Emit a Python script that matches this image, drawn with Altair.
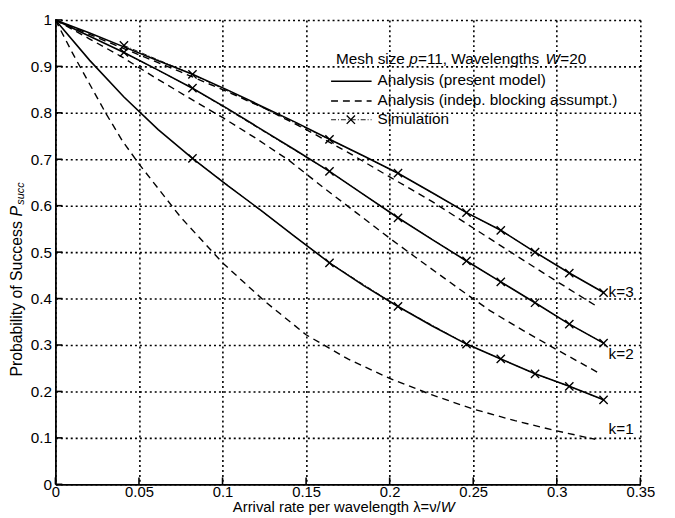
import altair as alt
import pandas as pd

# ---------------- data ----------------
# Analysis (present model)  solid
lam_pm = [0, 0.0205, 0.041, 0.0615, 0.082, 0.1025, 0.123, 0.1435, 0.164, 0.1845,
          0.205, 0.2255, 0.246, 0.2665, 0.287, 0.3075, 0.328]
pm_k1 = [1, 0.913, 0.834, 0.764, 0.702, 0.645, 0.59, 0.533, 0.477, 0.428,
         0.383, 0.341, 0.302, 0.270, 0.238, 0.211, 0.182]
pm_k2 = [1, 0.965, 0.93, 0.892, 0.853, 0.81, 0.765, 0.72, 0.674, 0.624,
         0.574, 0.527, 0.481, 0.436, 0.391, 0.345, 0.304]
pm_k3 = [1, 0.972, 0.942, 0.912, 0.883, 0.85, 0.815, 0.78, 0.743, 0.707,
         0.670, 0.628, 0.585, 0.547, 0.50, 0.455, 0.413]

# Analysis (indep. blocking assumpt.)  dashed
lam_ind_k1 = [0, 0.01, 0.02, 0.03, 0.04, 0.05, 0.075, 0.1, 0.125, 0.15, 0.175,
              0.2, 0.225, 0.25, 0.275, 0.3, 0.323]
ind_k1 = [1, 0.93, 0.865, 0.80, 0.74, 0.69, 0.575, 0.477, 0.395, 0.322, 0.27,
          0.228, 0.193, 0.162, 0.137, 0.115, 0.097]
lam_ind_k2 = [0, 0.02, 0.04, 0.06, 0.08, 0.1, 0.12, 0.14, 0.16, 0.18, 0.2,
              0.22, 0.24, 0.26, 0.28, 0.3, 0.325]
ind_k2 = [1, 0.96, 0.92, 0.875, 0.832, 0.79, 0.745, 0.697, 0.64, 0.585, 0.53,
          0.477, 0.425, 0.374, 0.331, 0.29, 0.24]
lam_ind_k3 = [0, 0.025, 0.05, 0.075, 0.1, 0.125, 0.15, 0.175, 0.2, 0.225,
              0.25, 0.275, 0.3, 0.325]
ind_k3 = [1, 0.962, 0.925, 0.888, 0.85, 0.81, 0.764, 0.715, 0.662, 0.61,
          0.552, 0.494, 0.437, 0.381]

# Simulation  (x markers)
lam_sim_k1 = [0.082, 0.164, 0.205, 0.246, 0.2665, 0.287, 0.3075, 0.328]
sim_k1 = [0.702, 0.477, 0.383, 0.302, 0.270, 0.238, 0.211, 0.182]
lam_sim_k23 = [0.041, 0.082, 0.164, 0.205, 0.246, 0.2665, 0.287, 0.3075, 0.328]
sim_k2 = [0.93, 0.853, 0.674, 0.574, 0.481, 0.436, 0.391, 0.345, 0.304]
sim_k3 = [0.945, 0.883, 0.743, 0.670, 0.585, 0.547, 0.50, 0.455, 0.413]

# curve labels
lab_text = ["k=3", "k=2", "k=1"]
lab_x = [0.331, 0.331, 0.331]
lab_y = [0.413, 0.28, 0.12]

x_ticks = [0, 0.05, 0.1, 0.15, 0.2, 0.25, 0.3, 0.35]
y_ticks = [0, 0.1, 0.2, 0.3, 0.4, 0.5, 0.6, 0.7, 0.8, 0.9, 1]


def long(lams, vals, k):
    return pd.DataFrame({"lam": lams, "p": vals, "k": k})


pm = pd.concat([long(lam_pm, pm_k1, 1), long(lam_pm, pm_k2, 2), long(lam_pm, pm_k3, 3)])
ind = pd.concat([long(lam_ind_k1, ind_k1, 1), long(lam_ind_k2, ind_k2, 2),
                 long(lam_ind_k3, ind_k3, 3)])
sim = pd.concat([long(lam_sim_k1, sim_k1, 1), long(lam_sim_k23, sim_k2, 2),
                 long(lam_sim_k23, sim_k3, 3)])
labs = pd.DataFrame({"lam": lab_x, "p": lab_y, "t": lab_text})

FONT = "Liberation Sans"
FS = 15.5
W, H = 592, 470

xs = alt.Scale(domain=[0, 0.35], nice=False, zero=False)
ys = alt.Scale(domain=[0, 1], nice=False)

# axes carry the dotted grid themselves (black, dotted)
X = alt.X("lam:Q", scale=xs,
          axis=alt.Axis(values=x_ticks, labelExpr="format(datum.value, '.2~f')",
                        title=None, ticks=False, grid=True, gridColor="black",
                        gridWidth=1.6, gridDash=[2, 3], gridOpacity=1,
                        labelFlush=False, labelPadding=0, labelFontSize=15,
                        domainColor="black", domainWidth=1.8))
Y = alt.Y("p:Q", scale=ys,
          axis=alt.Axis(values=y_ticks, labelExpr="format(datum.value, '.1~f')",
                        title=None, ticks=False, grid=True, gridColor="black",
                        gridWidth=1.6, gridDash=[2, 3], gridOpacity=1,
                        labelPadding=4, domainColor="black", domainWidth=1.8))

base_axes = alt.Chart(pm).mark_line(opacity=0).encode(x=X, y=Y, detail="k:N")

solid = alt.Chart(pm).mark_line(color="black", strokeWidth=1.6).encode(
    x="lam:Q", y="p:Q", detail="k:N")
dashed = alt.Chart(ind).mark_line(color="black", strokeWidth=1.4, strokeDash=[7, 5]).encode(
    x="lam:Q", y="p:Q", detail="k:N")
simline = alt.Chart(sim).mark_line(color="black", strokeWidth=0.9, strokeDash=[5, 2, 1, 2]).encode(
    x="lam:Q", y="p:Q", detail="k:N")
XSHAPE = "M -1 -1 L 1 1 M -1 1 L 1 -1"
simpts = alt.Chart(sim).mark_point(shape=XSHAPE, color="black", filled=False, opacity=1,
                                   strokeWidth=1.4, size=70).encode(x="lam:Q", y="p:Q")

labels = alt.Chart(labs).mark_text(font=FONT, fontSize=FS, align="left",
                                   baseline="middle", color="black").encode(
    x="lam:Q", y="p:Q", text="t:N")

# inward ticks
xt = alt.Chart(pd.DataFrame({"lam": x_ticks})).mark_rule(color="black", strokeWidth=1.6).encode(
    x="lam:Q", y=alt.value(H), y2=alt.value(H - 7))
yt = alt.Chart(pd.DataFrame({"p": y_ticks})).mark_rule(color="black", strokeWidth=1.6).encode(
    y="p:Q", x=alt.value(0), x2=alt.value(7))

one = pd.DataFrame({"a": [0]})


def txt(s, x, y, size=FS, style="normal", align="left", angle=0, baseline="middle"):
    kw = dict(text=s, font=FONT, fontSize=size, fontStyle=style, align=align,
              baseline=baseline, color="black")
    if angle:
        kw["angle"] = angle
    return alt.Chart(one).mark_text(**kw).encode(x=alt.value(x), y=alt.value(y))


# legend (plot-relative pixels)
lx = 284
leg = [
    txt("Mesh size ", lx, 40),
    txt("p", lx + 74, 40, style="italic"),
    txt(" =11, Wavelengths", lx + 83, 40),
    txt("W", lx + 212, 40, style="italic"),
    txt("=20", lx + 227, 40),
    txt("Analysis (present model)", 326, 61),
    txt("Analysis (indep. blocking assumpt.)", 326, 81),
    txt("Simulation", 326, 100),
    alt.Chart(one).mark_rule(color="black", strokeWidth=1.6).encode(
        x=alt.value(279), x2=alt.value(320), y=alt.value(62)),
    alt.Chart(one).mark_rule(color="black", strokeWidth=1.4, strokeDash=[7, 5]).encode(
        x=alt.value(279), x2=alt.value(320), y=alt.value(82)),
    alt.Chart(one).mark_rule(color="black", strokeWidth=0.9, strokeDash=[5, 2, 1, 2]).encode(
        x=alt.value(279), x2=alt.value(320), y=alt.value(101)),
    alt.Chart(one).mark_point(shape=XSHAPE, color="black", filled=False, opacity=1,
                              strokeWidth=1.4, size=70).encode(x=alt.value(299), y=alt.value(101)),
]

# axis titles
titles = [
    txt("Arrival rate per wavelength \u03bb=\u03bd/", 390, 493, size=15, align="right"),
    txt("W", 390, 493, size=15, style="italic"),
    txt("Probability of Success ", -39, 361, size=16, angle=270),
    txt("P", -39, 199, size=16, style="italic", angle=270),
    txt("succ", -35, 187, size=11, style="italic", angle=270),
]

chart = alt.layer(base_axes, dashed, simline, solid, simpts, labels, xt, yt,
                  *leg, *titles).properties(
    width=W, height=H,
    autosize=alt.AutoSizeParams(type="none"),
    padding={"left": 48, "top": 9, "right": 27, "bottom": 31},
).configure_view(stroke=None).configure_axis(
    labelFont=FONT, labelFontSize=FS, labelColor="black",
)

chart.save("out.html", embed_options={"renderer": "svg", "actions": False})
